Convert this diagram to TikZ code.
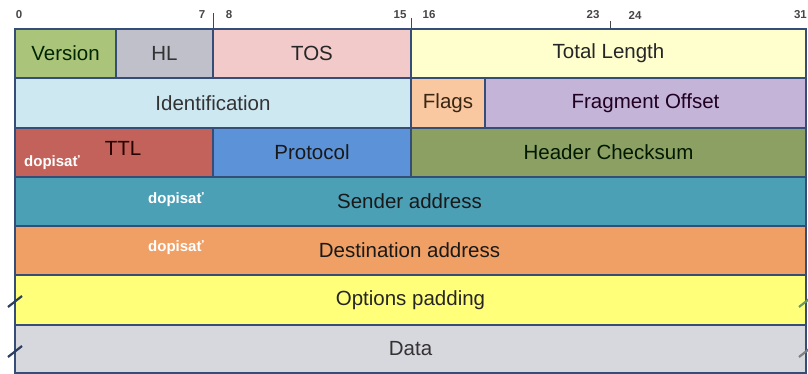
\documentclass[tikz,border=0pt]{standalone}
\usepackage{fontspec}
\setmainfont{Liberation Sans}
\usetikzlibrary{fit}
\definecolor{cVer}{RGB}{170,196,122}
\definecolor{cHL}{RGB}{192,192,202}
\definecolor{cTOS}{RGB}{242,202,202}
\definecolor{cTL}{RGB}{255,255,206}
\definecolor{cId}{RGB}{206,232,242}
\definecolor{cFl}{RGB}{250,200,160}
\definecolor{cFO}{RGB}{196,180,216}
\definecolor{cTTL}{RGB}{194,98,90}
\definecolor{cPr}{RGB}{92,146,216}
\definecolor{cHC}{RGB}{140,160,100}
\definecolor{cSA}{RGB}{76,160,182}
\definecolor{cDA}{RGB}{240,160,100}
\definecolor{cOP}{RGB}{255,255,122}
\definecolor{cDa}{RGB}{215,215,222}
\definecolor{cBorder}{RGB}{52,78,120}
\definecolor{cRuler}{RGB}{70,70,70}
\tikzset{
  cell/.style={draw=cBorder, line width=1.6pt, inner sep=0pt, rectangle},
  lbl/.style={inner sep=0pt, font=\fontsize{20.5}{24}\selectfont},
  note/.style={text=white, font=\bfseries\fontsize{15}{17}\selectfont, inner sep=0pt},
  rnum/.style={text=cRuler, font=\bfseries\fontsize{11.5}{13}\selectfont, inner sep=0pt},
  tickl/.style={draw=cRuler, line width=0.8pt},
  brk/.style={draw=cBorder!80!black, line width=2.2pt}
}
\begin{document}
\begin{tikzpicture}[x=1pt,y=-1pt]
\useasboundingbox (0,0) rectangle (808,374);
\fill[white] (0,0) rectangle (808,374);
% row 1
\node[cell, fill=cVer, fit={(15,29)(116,78)}] (ver) {};
\node[cell, fill=cHL, fit={(116,29)(213,78)}] (hl) {};
\node[cell, fill=cTOS, fit={(213,29)(411,78)}] (tos) {};
\node[cell, fill=cTL, fit={(411,29)(806,78)}] (tl) {};
% row 2
\node[cell, fill=cId, fit={(15,78)(411,128)}] (id) {};
\node[cell, fill=cFl, fit={(411,78)(485,128)}] (fl) {};
\node[cell, fill=cFO, fit={(485,78)(806,128)}] (fo) {};
% row 3
\node[cell, fill=cTTL, fit={(15,128)(213,177)}] (ttl) {};
\node[cell, fill=cPr, fit={(213,128)(411,177)}] (pr) {};
\node[cell, fill=cHC, fit={(411,128)(806,177)}] (hc) {};
% rows 4-7
\node[cell, fill=cSA, fit={(15,177)(806,226)}] (sa) {};
\node[cell, fill=cDA, fit={(15,226)(806,275)}] (da) {};
\node[cell, fill=cOP, fit={(15,275)(806,325)}] (op) {};
\node[cell, fill=cDa, fit={(15,325)(806,373)}] (dt) {};
% texts
\node[lbl, text=black!75!green!60!black] (verT) at (ver) {Version};
\node[lbl, text=black!80] (hlT) at (hl) {HL};
\node[lbl, text=black!85] (tosT) at (tos) {TOS};
\node[lbl, text=black!85] (tlT) at (tl) {Total Length};
\node[lbl, text=black!80] (idT) at (id) {Identification};
\node[lbl, text=black!70!brown] (flT) at (fl) {Flags};
\node[lbl, text=black!75!violet] (foT) at (fo) {Fragment Offset};
\node[lbl, text=black!90] (prT) at (pr) {Protocol};
\node[lbl, text=black!80!green!50!black] (hcT) at (hc) {Header Checksum};
\node[lbl, text=black!90] (saT) at ([xshift=-1pt]sa.center) {Sender address};
\node[lbl, text=black!90] (daT) at ([xshift=-1pt]da.center) {Destination address};
\node[lbl, text=black!85] (opT) at (op) {Options padding};
\node[lbl, text=black!80] (dtT) at (dt) {Data};
\node[lbl, text=black!85!red] (ttlT) at (123,148) {TTL};
\node[note] (n1) at (52,163) {dopisať};
\node[note] (n2) at (176,200) {dopisať};
\node[note] (n3) at (176,248) {dopisať};
% break marks
\coordinate (b1a) at (8,307); \coordinate (b1b) at (22,296);
\coordinate (b2a) at (8,357); \coordinate (b2b) at (22,346);
\coordinate (b3a) at (799,307); \coordinate (b3b) at (813,296);
\coordinate (b4a) at (799,357); \coordinate (b4b) at (813,346);
\draw[brk] (b1a) -- (b1b);
\draw[brk] (b2a) -- (b2b);
\draw[brk, draw=gray!80!green] (b3a) -- (b3b);
\draw[brk, draw=gray] (b4a) -- (b4b);
% ruler
\node[rnum] (r0) at (19,15) {0};
\node[rnum] (r7) at (202,15) {7};
\node[rnum] (r8) at (229,15) {8};
\node[rnum] (r15) at (400,15) {15};
\node[rnum] (r16) at (429,15) {16};
\node[rnum] (r23) at (593,15) {23};
\node[rnum] (r24) at (635,15) {24};
\node[rnum, anchor=east] (r31) at (807,15) {31};
\coordinate (t1) at (213,13); \coordinate (t2) at (411,18); \coordinate (t3) at (610,21);
\draw[tickl] (t1) -- (t1 |- ver.north);
\draw[tickl] (t2) -- (t2 |- ver.north);
\draw[tickl] (t3) -- (t3 |- ver.north);
\end{tikzpicture}
\end{document}
